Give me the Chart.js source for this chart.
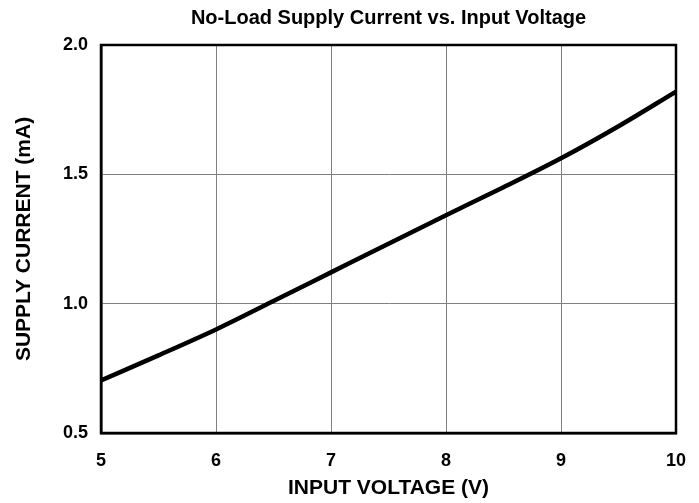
<!DOCTYPE html>
<html>
<head>
<meta charset="utf-8">
<title>No-Load Supply Current vs. Input Voltage</title>
<script src="https://cdn.jsdelivr.net/npm/chart.js@4.4.1/dist/chart.umd.min.js"></script>
<style>
  html, body { margin: 0; padding: 0; background: #fff; }
  #wrap { width: 699px; height: 503px; }
</style>
</head>
<body>
<div id="wrap"><canvas id="chart"></canvas></div>
<script>
// ---------- data ----------
const inputVoltage = [5.0, 5.5, 6.0, 6.5, 7.0, 7.5, 8.0, 8.5, 9.0, 9.5, 10.0];
const supplyCurrent = [0.703, 0.800, 0.900, 1.010, 1.121, 1.232, 1.342, 1.450, 1.562, 1.686, 1.820];

const xTickValues = [5, 6, 7, 8, 9, 10];
const yTickValues = [0.5, 1.0, 1.5, 2.0];
const yTickLabels = ["0.5", "1.0", "1.5", "2.0"];

const FONT = "'Liberation Sans', Arial, Helvetica, sans-serif";

// box round the plot area (Chart.js only draws left/bottom borders)
const frameBox = {
  id: "frameBox",
  afterDatasetsDraw(chart) {
    const { ctx, chartArea: a } = chart;
    ctx.save();
    ctx.strokeStyle = "#000";
    ctx.lineWidth = 2.5;
    ctx.strokeRect(a.left, a.top, a.right - a.left, a.bottom - a.top);
    ctx.restore();
  }
};

new Chart(document.getElementById("chart"), {
  type: "line",
  data: {
    datasets: [{
      label: "Supply current",
      data: inputVoltage.map((v, i) => ({ x: v, y: supplyCurrent[i] })),
      borderColor: "#000",
      borderWidth: 4.5,
      pointRadius: 0,
      cubicInterpolationMode: "monotone",
      fill: false
    }]
  },
  options: {
    responsive: true,
    maintainAspectRatio: false,
    animation: false,
    layout: { padding: { left: 0, right: 23, top: 0, bottom: 0 } },
    plugins: {
      legend: { display: false },
      tooltip: { enabled: false },
      title: {
        display: true,
        fullSize: false,
        text: "No-Load Supply Current vs. Input Voltage",
        color: "#000",
        font: { family: FONT, size: 20, weight: "bold", lineHeight: 1.2 },
        padding: { top: 6, bottom: 15 }
      }
    },
    scales: {
      x: {
        type: "linear",
        min: 5,
        max: 10,
        afterBuildTicks: (s) => { s.ticks = xTickValues.map(v => ({ value: v })); },
        afterFit: (s) => { s.height = 70; s.paddingLeft = 0; s.paddingRight = 0; },
        grid: { color: "#808080", lineWidth: 1, drawTicks: false },
        border: { display: true, color: "#000", width: 2.5 },
        ticks: {
          color: "#000",
          padding: 17,
          maxRotation: 0,
          autoSkip: false,
          font: { family: FONT, size: 18, weight: "bold" },
          callback: (v) => String(v)
        },
        title: {
          display: true,
          text: "INPUT VOLTAGE (V)",
          color: "#000",
          font: { family: FONT, size: 21, weight: "bold", lineHeight: 1.2 },
          padding: { top: 0, bottom: 2 }
        }
      },
      y: {
        min: 0.5,
        max: 2.0,
        afterBuildTicks: (s) => { s.ticks = yTickValues.map(v => ({ value: v })); },
        afterFit: (s) => { s.width = 101; },
        grid: { color: "#808080", lineWidth: 1, drawTicks: false },
        border: { display: true, color: "#000", width: 2.5 },
        ticks: {
          color: "#000",
          padding: 13,
          autoSkip: false,
          font: { family: FONT, size: 18, weight: "bold" },
          callback: (v) => yTickLabels[yTickValues.indexOf(v)] ?? v.toFixed(1)
        },
        title: {
          display: true,
          text: "SUPPLY CURRENT (mA)",
          color: "#000",
          font: { family: FONT, size: 21, weight: "bold", lineHeight: 1.2 },
          padding: { top: 12, bottom: 0 }
        }
      }
    }
  },
  plugins: [frameBox]
});
</script>
</body>
</html>
